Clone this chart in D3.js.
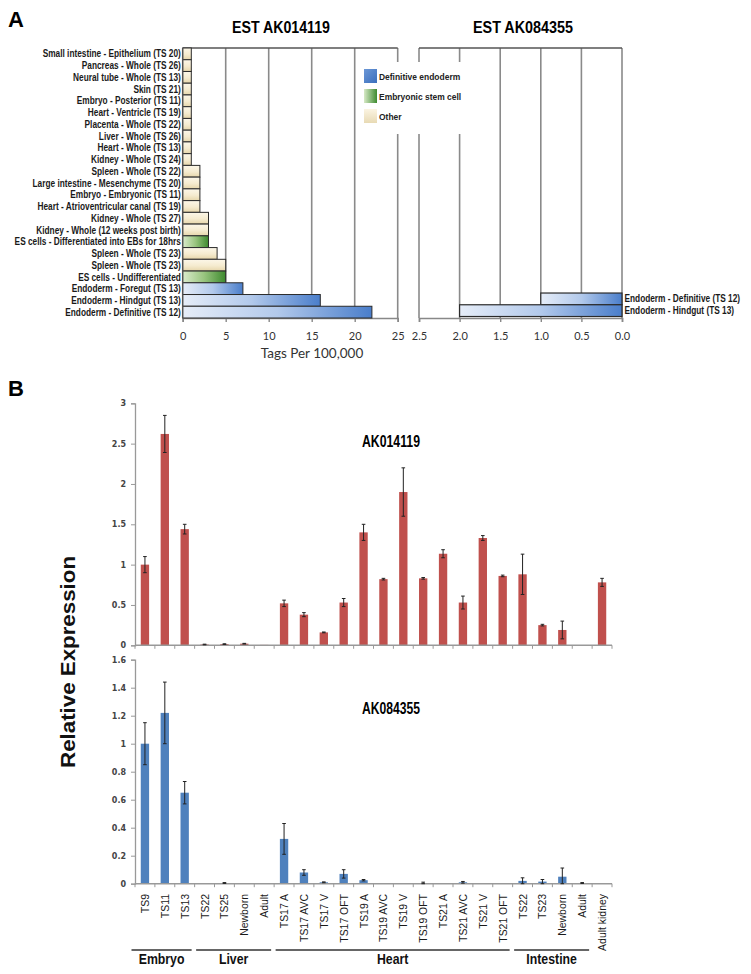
<!DOCTYPE html>
<html>
<head>
<meta charset="utf-8">
<script src="https://cdn.jsdelivr.net/npm/d3@7"></script>
<style>
  html, body { margin: 0; padding: 0; background: #fff; }
  svg { display: block; }
</style>
</head>
<body>
<svg id="chart" width="751" height="974"></svg>
<script>
// ---------------- DATA ----------------
// Panel A — EST AK014119 (tags per 100,000)
const estCategories = [
  "Small intestine - Epithelium (TS 20)",
  "Pancreas - Whole (TS 26)",
  "Neural tube - Whole (TS 13)",
  "Skin (TS 21)",
  "Embryo - Posterior (TS 11)",
  "Heart - Ventricle (TS 19)",
  "Placenta - Whole  (TS 22)",
  "Liver - Whole (TS 26)",
  "Heart - Whole  (TS 13)",
  "Kidney - Whole  (TS 24)",
  "Spleen - Whole (TS 22)",
  "Large intestine  - Mesenchyme (TS 20)",
  "Embryo - Embryonic (TS 11)",
  "Heart - Atrioventricular canal (TS 19)",
  "Kidney - Whole (TS 27)",
  "Kidney - Whole (12 weeks post birth)",
  "ES cells - Differentiated into EBs for 18hrs",
  "Spleen - Whole (TS 23)",
  "Spleen - Whole (TS 23)",
  "ES cells - Undifferentiated",
  "Endoderm - Foregut (TS 13)",
  "Endoderm - Hindgut (TS 13)",
  "Endoderm - Definitive (TS 12)"
];
const estAK014119 = [1,1,1,1,1,1,1,1,1,1,2,2,2,2,3,3,3,4,5,5,7,16,22];
const estTypes = ["other","other","other","other","other","other","other","other","other","other",
  "other","other","other","other","other","other","es","other","other","es","endo","endo","endo"];
// Panel A — EST AK084355
const est2Categories = ["Endoderm - Definitive (TS 12)", "Endoderm - Hindgut (TS 13)"];
const estAK084355 = [1.0, 2.0];
const est2Types = ["endo", "endo"];
const leftTicks = [0, 5, 10, 15, 20, 25];
const rightTicks = [2.5, 2.0, 1.5, 1.0, 0.5, 0.0];
const legendLabels = ["Definitive endoderm", "Embryonic stem cell", "Other"];
const legendTypes = ["endo", "es", "other"];

// Panel B — qPCR relative expression
const qCategories = ["TS9","TS11","TS13","TS22","TS25","Newborn","Adult",
  "TS17 A","TS17 AVC","TS17 V","TS17 OFT","TS19 A","TS19 AVC","TS19 V","TS19 OFT",
  "TS21 A","TS21 AVC","TS21 V","TS21 OFT","TS22","TS23","Newborn","Adult","Adult kidney"];
const qAK014119 = [1.0,2.62,1.44,0.01,0.015,0.02,0.005,0.52,0.38,0.16,0.53,1.40,0.82,1.90,0.83,1.135,0.53,1.33,0.86,0.88,0.25,0.19,0,0.78];
const qErr014119 = [0.1,0.23,0.06,0.004,0.004,0.004,0,0.04,0.025,0.005,0.05,0.1,0.01,0.3,0.01,0.05,0.08,0.03,0.01,0.25,0.01,0.11,0,0.05];
const qAK084355 = [1.0,1.22,0.65,0,0.005,0,0,0.32,0.08,0.01,0.07,0.025,0,0,0.005,0,0.01,0,0,0.02,0.015,0.05,0.005,0];
const qErr084355 = [0.15,0.22,0.08,0,0.003,0,0,0.11,0.02,0.003,0.03,0.005,0,0,0.006,0,0.006,0,0,0.022,0.015,0.062,0.003,0];
const topTicks = [0,0.5,1,1.5,2,2.5,3];
const bottomTicks = [0,0.2,0.4,0.6,0.8,1,1.2,1.4,1.6];
const qGroups = [
  {name: "Embryo", from: 0, to: 2},
  {name: "Liver", from: 3, to: 6},
  {name: "Heart", from: 7, to: 18},
  {name: "Intestine", from: 19, to: 22}
];

// ---------------- DRAW ----------------
const svg = d3.select("#chart");
const SANS = "'Liberation Sans', Arial, Helvetica, sans-serif";
const NUM = "Lato, 'Open Sans', sans-serif";

// gradients
const defs = svg.append("defs");
function lin(id, x2, y2, stops) {
  const g = defs.append("linearGradient").attr("id", id)
    .attr("x1", 0).attr("y1", 0).attr("x2", x2).attr("y2", y2);
  stops.forEach(s => g.append("stop").attr("offset", s[0]).attr("stop-color", s[1]));
}
lin("g-endo", 1, 0, [[0, "#e6edf8"], [0.5, "#b2c9eb"], [1, "#4a7ecb"]]);
lin("g-es", 1, 0, [[0, "#dbebcc"], [0.5, "#98c47e"], [1, "#3d8a2e"]]);
lin("g-other", 0, 1, [[0, "#fcf7e9"], [0.55, "#f5ebcf"], [1, "#e6d6aa"]]);
lin("l-endo", 1, 1, [[0, "#6c97d6"], [1, "#3b6fbd"]]);
lin("l-es", 1, 0, [[0, "#d7e9c6"], [1, "#3e8b30"]]);
lin("l-other", 0, 1, [[0, "#fbf4e2"], [1, "#e8dab4"]]);

// narrow (condensed) text helper: horizontal scale via transform
function narrow(sel, x, y, k) {
  return sel.attr("transform", `translate(${x},${y}) scale(${k},1)`);
}

// Panel letters
svg.append("text").attr("x", 8).attr("y", 27).text("A")
  .attr("font-family", SANS).attr("font-weight", "bold").attr("font-size", 22);
svg.append("text").attr("x", 8).attr("y", 396).text("B")
  .attr("font-family", SANS).attr("font-weight", "bold").attr("font-size", 22);

// -------- Panel A --------
const aTop = 48, aBottom = 318;
const yA = d3.scaleBand().domain(d3.range(estCategories.length)).range([aTop, aBottom]).padding(0);
const xL = d3.scaleLinear().domain([0, 25]).range([182.7, 397.7]);
const xR = d3.scaleLinear().domain([2.5, 0]).range([419, 622]);

function gridPanel(x, ticks, fmt) {
  const g = svg.append("g");
  g.selectAll("line.grid").data(ticks).join("line")
    .attr("x1", d => x(d)).attr("x2", d => x(d))
    .attr("y1", aTop).attr("y2", aBottom)
    .attr("stroke", "#8a8a8a").attr("stroke-width", 1.6);
  g.append("line").attr("x1", x.range()[0]).attr("x2", x.range()[1])
    .attr("y1", aTop).attr("y2", aTop).attr("stroke", "#555").attr("stroke-width", 1.5);
  const ax = svg.append("g").attr("transform", `translate(0,${aBottom})`)
    .call(d3.axisBottom(x).tickValues(ticks).tickFormat(fmt).tickSize(4).tickPadding(10));
  ax.select(".domain").attr("stroke", "#888").attr("stroke-width", 1.6);
  ax.selectAll(".tick line").attr("stroke", "#888").attr("stroke-width", 1.4);
  ax.selectAll(".tick text").attr("font-family", NUM).attr("font-size", 11).attr("fill", "#333");
  return g;
}
gridPanel(xL, leftTicks, d3.format("d"));
gridPanel(xR, rightTicks, d3.format(".1f"));

// legend box (covers grid)
svg.append("rect").attr("x", 357).attr("y", 62).attr("width", 105).attr("height", 72).attr("fill", "#fff");
const legG = svg.append("g");
legendLabels.forEach((lab, i) => {
  legG.append("rect").attr("x", 364).attr("y", 69 + i * 20).attr("width", 13).attr("height", 14)
    .attr("fill", `url(#l-${legendTypes[i]})`);
  narrow(legG.append("text"), 379, 80 + i * 20, 0.94).text(lab)
    .attr("font-family", SANS).attr("font-size", 9).attr("font-weight", "bold").attr("fill", "#222");
});

// left bars
svg.append("g").selectAll("rect").data(estAK014119).join("rect")
  .attr("x", xL(0)).attr("y", (d, i) => yA(i))
  .attr("width", d => xL(d) - xL(0)).attr("height", yA.bandwidth())
  .attr("fill", (d, i) => `url(#g-${estTypes[i]})`)
  .attr("stroke", "#2b2b2b").attr("stroke-width", 1);
svg.append("line").attr("x1", xL(0)).attr("x2", xL(0)).attr("y1", aTop).attr("y2", aBottom)
  .attr("stroke", "#555").attr("stroke-width", 1.2);

// left labels
svg.append("g").selectAll("text").data(estCategories).join("text")
  .attr("transform", (d, i) => `translate(180.8,${yA(i) + yA.bandwidth() / 2 + 3.6}) scale(0.83,1)`)
  .attr("text-anchor", "end").text(d => d)
  .attr("font-family", SANS).attr("font-size", 10).attr("font-weight", "bold").attr("fill", "#1a1a1a");

// right bars (placed on the last two rows)
const yR = d3.scaleBand().domain(est2Categories)
  .range([aBottom - 2 * yA.bandwidth() - 1.5, aBottom - 1.5]).padding(0);
svg.append("g").selectAll("rect").data(estAK084355).join("rect")
  .attr("x", d => xR(d)).attr("y", (d, i) => yR(est2Categories[i]))
  .attr("width", d => xR(0) - xR(d)).attr("height", yR.bandwidth())
  .attr("fill", (d, i) => `url(#g-${est2Types[i]})`)
  .attr("stroke", "#2b2b2b").attr("stroke-width", 1.2);
svg.append("g").selectAll("text").data(est2Categories).join("text")
  .attr("transform", d => `translate(624.5,${yR(d) + yR.bandwidth() / 2 + 3.6}) scale(0.83,1)`)
  .text(d => d)
  .attr("font-family", SANS).attr("font-size", 10).attr("font-weight", "bold").attr("fill", "#1a1a1a");

// titles
function fitted(x, y, txt, size, width, anchor) {
  return svg.append("text").attr("x", x).attr("y", y).text(txt)
    .attr("font-family", SANS).attr("font-weight", "bold").attr("font-size", size)
    .attr("text-anchor", anchor || "middle")
    .attr("textLength", width).attr("lengthAdjust", "spacingAndGlyphs");
}
fitted(281, 33.3, "EST AK014119", 16, 98);
fitted(523, 33.3, "EST AK084355", 16, 100);

svg.append("text").attr("x", 312).attr("y", 358).attr("text-anchor", "middle")
  .text("Tags Per 100,000").attr("font-family", NUM).attr("font-size", 13.5).attr("fill", "#333");

// -------- Panel B --------
const xB = d3.scaleBand().domain(d3.range(qCategories.length)).range([135, 612])
  .paddingInner(0.58).paddingOuter(0.29);
const step = xB.step();
const yTop = d3.scaleLinear().domain([0, 3]).range([645.3, 403.3]);
const yBot = d3.scaleLinear().domain([0, 1.6]).range([883.7, 659.7]);

function qChart(y, ticks, values, errs, color, title, titleY) {
  const g = svg.append("g");
  const ay = g.append("g").attr("transform", "translate(135,0)")
    .call(d3.axisLeft(y).tickValues(ticks).tickFormat(d3.format("~g")).tickSize(4).tickPadding(5));
  ay.select(".domain").attr("stroke", "#999").attr("stroke-width", 1.3);
  ay.selectAll(".tick line").attr("stroke", "#999");
  ay.selectAll(".tick text").attr("font-family", "'DejaVu Sans', Verdana, sans-serif")
    .attr("font-weight", "bold").attr("font-size", 8).attr("fill", "#444");
  g.selectAll("rect.bar").data(values).join("rect").attr("class", "bar")
    .attr("x", (d, i) => xB(i)).attr("width", xB.bandwidth())
    .attr("y", d => y(d)).attr("height", d => y(0) - y(d))
    .attr("fill", color);
  const y0 = y(0);
  g.append("line").attr("x1", 135).attr("x2", 612).attr("y1", y0).attr("y2", y0)
    .attr("stroke", "#999").attr("stroke-width", 1.5);
  g.selectAll("line.xt").data(d3.range(qCategories.length + 1)).join("line").attr("class", "xt")
    .attr("x1", i => 135 + i * step).attr("x2", i => 135 + i * step)
    .attr("y1", y0).attr("y2", y0 + 3.5).attr("stroke", "#999").attr("stroke-width", 1);
  const eg = g.append("g").attr("stroke", "#222").attr("stroke-width", 1);
  values.forEach((v, i) => {
    const e = errs[i];
    if (!e) return;
    const cx = xB(i) + xB.bandwidth() / 2;
    const lo = y(Math.max(0, v - e)), hi = y(v + e);
    eg.append("line").attr("x1", cx).attr("x2", cx).attr("y1", hi).attr("y2", lo);
    eg.append("line").attr("x1", cx - 1.8).attr("x2", cx + 1.8).attr("y1", hi).attr("y2", hi);
    eg.append("line").attr("x1", cx - 1.8).attr("x2", cx + 1.8).attr("y1", lo).attr("y2", lo);
  });
  fitted(391, titleY, title, 16, 58);
}
qChart(yTop, topTicks, qAK014119, qErr014119, "#c0504d", "AK014119", 446.5);
qChart(yBot, bottomTicks, qAK084355, qErr084355, "#4f81bd", "AK084355", 713.5);

// y axis title
svg.append("text").attr("transform", "translate(75,662) rotate(-90)")
  .attr("text-anchor", "middle").text("Relative Expression")
  .attr("font-family", SANS).attr("font-weight", "bold").attr("font-size", 20).attr("fill", "#111")
  .attr("textLength", 212).attr("lengthAdjust", "spacingAndGlyphs");

// x labels
svg.append("g").selectAll("text").data(qCategories).join("text")
  .attr("transform", (d, i) => `translate(${xB(i) + xB.bandwidth() / 2 + 4},894) rotate(-90) scale(0.95,1)`)
  .attr("text-anchor", "end").text(d => d)
  .attr("font-family", SANS).attr("font-size", 11).attr("fill", "#1a1a1a");

// group lines & labels
qGroups.forEach(gr => {
  const x1 = 135 + gr.from * step - (gr.from === 0 ? 3.5 : -1.5);
  const x2 = 135 + (gr.to + 1) * step - 3;
  svg.append("line").attr("x1", x1).attr("x2", x2).attr("y1", 950).attr("y2", 950)
    .attr("stroke", "#333").attr("stroke-width", 1.5);
  svg.append("text")
    .attr("transform", `translate(${(x1 + x2) / 2},963.5) scale(0.82,1)`)
    .attr("text-anchor", "middle")
    .text(gr.name).attr("font-family", SANS).attr("font-weight", "bold").attr("font-size", 15).attr("fill", "#111");
});
</script>
</body>
</html>
